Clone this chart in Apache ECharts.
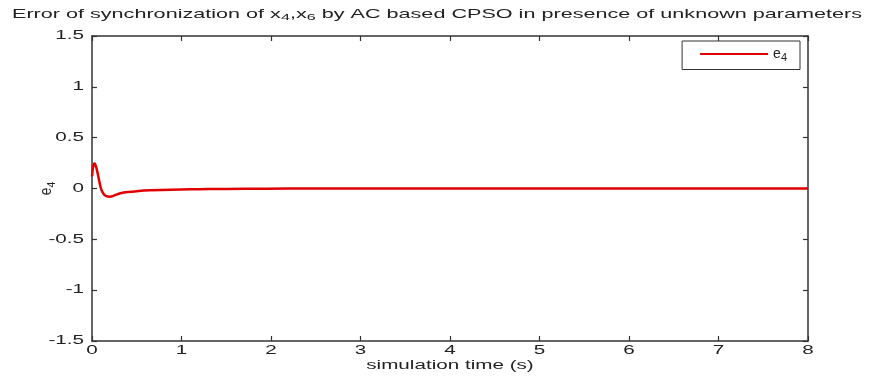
<!DOCTYPE html>
<html><head><meta charset="utf-8">
<script src="https://cdn.jsdelivr.net/npm/echarts@6/dist/echarts.min.js"></script>
<style>html,body{margin:0;padding:0;background:#fff}#c{width:872px;height:376px}</style>
</head><body><div id="c"></div>
<script>
var timeS = [0, 0.01, 0.02, 0.03, 0.05, 0.07, 0.1, 0.13, 0.16, 0.2, 0.24, 0.28, 0.32, 0.4, 0.5, 0.65, 0.88, 1.1, 1.3, 1.7, 2.2, 3, 4, 5, 6, 7, 8];
var e4 = [0.12, 0.2, 0.24, 0.245, 0.2, 0.12, 0.0, -0.055, -0.075, -0.08, -0.072, -0.058, -0.046, -0.035, -0.026, -0.018, -0.012, -0.008, -0.005, -0.003, -0.001, 0, 0, 0, 0, 0, 0];
var xTicks = [0, 1, 2, 3, 4, 5, 6, 7, 8];
var yTicks = [-1.5, -1, -0.5, 0, 0.5, 1, 1.5];
var yTickLabels = ['-1.5', '-1', '-0.5', '0', '0.5', '1', '1.5'];
var titleText = '{n|Error of synchronization of x}{s|4}{n|,x}{s|6}{n| by AC based CPSO in presence of unknown parameters}';
var xName = 'simulation time (s)';
var seriesName = 'e4';

var font = 'Liberation Sans, Arial, sans-serif';
var FS = 12, SX = 1.72, TXT = '#222';
var chart = echarts.init(document.getElementById('c'), null, {renderer: 'canvas'});
var axisLine = {show: true, onZero: false, lineStyle: {color: '#333', width: 1.5}};
var tick = {show: true, inside: true, length: 5, lineStyle: {color: '#333', width: 1.2}};
var richSub = {
  n: {fontFamily: font, fontSize: FS, color: TXT},
  a: {fontFamily: font, fontSize: FS, color: TXT},
  s: {fontFamily: font, fontSize: 9, color: TXT, padding: [7, 0, 0, 0]},
  b: {fontFamily: font, fontSize: 9, color: TXT, padding: [7, 0, 0, 0]}
};
chart.setOption({
  animation: false,
  grid: {left: 92, right: 64, top: 36, bottom: 35},
  legend: {
    right: 72, top: 41,
    itemWidth: 68, itemHeight: 2, itemGap: 8,
    icon: 'rect',
    borderColor: '#333', borderWidth: 1,
    padding: [6, 13, 6, 18],
    data: [seriesName],
    formatter: function () { return '{a|e}{b|4}'; },
    textStyle: {rich: {
      a: {fontFamily: font, fontSize: 14, color: TXT},
      b: {fontFamily: font, fontSize: 11, color: TXT, padding: [8, 0, 0, 0]}
    }}
  },
  xAxis: [{
    type: 'value', min: 0, max: 8, interval: 1,
    axisLine: axisLine, axisTick: tick, splitLine: {show: false},
    axisLabel: {show: false}
  }, {
    type: 'value', min: 0, max: 8, interval: 1, position: 'top',
    axisLine: axisLine, axisTick: tick, splitLine: {show: false},
    axisLabel: {show: false}
  }],
  yAxis: [{
    type: 'value', min: -1.5, max: 1.5, interval: 0.5,
    axisLine: axisLine, axisTick: tick, splitLine: {show: false},
    axisLabel: {show: false}
  }, {
    type: 'value', min: -1.5, max: 1.5, interval: 0.5, position: 'right',
    axisLine: axisLine, axisTick: tick, splitLine: {show: false},
    axisLabel: {show: false}
  }],
  series: [{
    name: seriesName, type: 'line', xAxisIndex: 0, yAxisIndex: 0,
    data: timeS.map(function (t, i) { return [t, e4[i]]; }),
    showSymbol: false, smooth: 0.25,
    lineStyle: {color: '#e00000', width: 2.5},
    itemStyle: {color: '#e00000'}
  }]
});

function txt(x, y, text, align, opts) {
  opts = opts || {};
  return {
    type: 'text', x: x, y: y, scaleX: opts.sx || SX, scaleY: opts.sy || 1,
    rotation: opts.rot || 0, silent: true,
    style: {text: text, x: 0, y: 0, align: align, verticalAlign: 'middle',
      font: FS + 'px ' + font, fill: TXT, rich: richSub}
  };
}
var g = [];
g.push(txt(437, 14, titleText, 'center', {sx: 1.8, sy: 1.08}));
xTicks.forEach(function (v) {
  var px = chart.convertToPixel({xAxisIndex: 0}, v);
  g.push(txt(px, 351, String(v), 'center'));
});
yTicks.forEach(function (v, i) {
  var py = chart.convertToPixel({yAxisIndex: 0}, v);
  g.push(txt(84, py, yTickLabels[i], 'right'));
});
var midX = (chart.convertToPixel({xAxisIndex: 0}, 0) + chart.convertToPixel({xAxisIndex: 0}, 8)) / 2;
g.push(txt(midX, 366, xName, 'center'));
var midY = chart.convertToPixel({yAxisIndex: 0}, 0);
g.push(txt(47, midY, '{a|e}{b|4}', 'center', {rot: Math.PI / 2, sx: 1.15, sy: 1.3}));
chart.setOption({graphic: g});
</script></body></html>
